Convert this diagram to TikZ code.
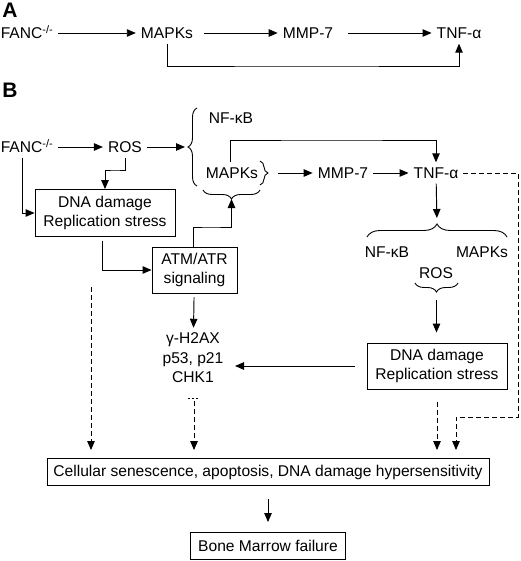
\documentclass[tikz,border=0pt]{standalone}
\usepackage{fontspec}
\setmainfont{Liberation Sans}
\usetikzlibrary{calc,positioning,arrows.meta,decorations.pathreplacing}

\tikzset{
	lbl/.style={inner sep=5pt, text height=11pt, text depth=0pt},
	box/.style={draw, line width=0.9pt, align=center, inner sep=0pt},
	arr/.style={line width=0.95pt, -{Triangle[length=9pt,width=7.5pt]}},
	dasharr/.style={arr, dash pattern=on 5pt off 3pt},
	brc/.style={line width=0.9pt, decorate, decoration={brace, amplitude=#1}},
	brc/.default=9pt,
	tag/.style={font=\fontsize{21}{21}\selectfont\bfseries},
}

\begin{document}
\begin{tikzpicture}[x=1pt, y=-1pt, font=\fontsize{15.6}{19.5}\selectfont]
			\useasboundingbox (0,0) rectangle (520,561);

			% A
			\node[tag](aTag) at(10, 10){A};
			\node[lbl](aFanc) at(27, 33){FANC\textsuperscript{-/-}};
			\node[lbl](aMapk) at(167, 33){MAPKs};
			\node[lbl](aMmp) at(308, 33){MMP-7};
			\node[lbl](aTnf) at(459, 33){TNF-α};
			\coordinate(aLow) at(300, 66);

			\draw[arr] (aFanc) to (aMapk);
			\draw[arr, shorten <=6pt] (aMapk) to (aMmp);
			\draw[arr, shorten <=10pt] (aMmp) to (aTnf);
			\draw[arr] (aMapk) |- (aLow) -| (aTnf);

			% B
			\node[tag](bTag) at(10, 90){B};
			\node[lbl](bFanc) at(27, 147){FANC\textsuperscript{-/-}};
			\node[lbl](bRos) at(125, 147){ROS};
			\node[lbl](bNfkb) at(231, 118){NF-κB};
			\node[lbl](bMapk) at(232, 173){MAPKs};
			\node[lbl](bMmp) at(343, 173){MMP-7};
			\node[lbl](bTnf) at(436, 173){TNF-α};

			\node[box, minimum width=140pt, minimum height=47pt](lDna) at(105, 213){DNA damage\\Replication stress};
			\node[box, minimum width=85pt, minimum height=46pt](atm) at(194.5, 270){ATM/ATR\\signaling};
			\node[align=center, inner sep=5pt](gList) at(193, 358){γ-H2AX\\p53, p21\\CHK1};

			\node[lbl](rNfkb) at(387, 252){NF-κB};
			\node[lbl](rMapk) at(482, 252){MAPKs};
			\node[lbl](rRos) at(436, 273){ROS};
			\node[box, minimum width=140pt, minimum height=46pt](rDna) at(437, 366){DNA damage\\Replication stress};

			\node[box, minimum width=442pt, minimum height=27pt](cell) at(268, 472){Cellular senescence, apoptosis, DNA damage hypersensitivity};
			\node[box, minimum width=155pt, minimum height=27pt](bone) at(268, 546){Bone Marrow failure};

			% braces
			\draw[brc] (197, 186) to (197, 108);
			\draw[brc=8pt] (260, 161) to (260, 185);
			\draw[brc] (260, 190) to (203, 190);
			\draw[brc=13pt] (367, 237) to (507, 237);
			\draw[brc] (458, 283) to (415, 283);

			\coordinate(lTip) at(188, 147);
			\coordinate(mTip) at(268, 173);
			\coordinate(gTip) at(231.5, 199);
			\coordinate(rTip) at(437, 224);
			\coordinate(sTip) at(436.5, 292);

			\coordinate(rosKnee) at(115, 170);
			\coordinate(atmKnee) at(210, 227);
			\coordinate(topKnee) at(330, 140);
			\coordinate(gIn) at(235, 366);
			\coordinate(gDots) at(194, 398);
			\coordinate(lDash) at(91, 287);
			\coordinate(tnfEdge) at(518, 173);
			\coordinate(tnfDrop) at(456, 417);

			\draw[arr] (bFanc) to (bRos);
			\draw[arr, shorten >=3pt] (bRos) to (lTip);
			\draw[arr] ([xshift=-5pt]bFanc.south) |- (lDna);
			\draw[arr] (bRos.south) |- (rosKnee) -| (lDna.north);
			\draw[arr, shorten <=4pt] ([xshift=-3pt]lDna.south) |- (atm);
			\draw[arr] ([xshift=-1.5pt]atm.north) |- (atmKnee) -| (gTip);
			\draw[arr] ([xshift=-2pt]bMapk.north) |- (topKnee) -| (bTnf.north);
			\draw[arr, shorten <=10pt] (mTip) to (bMmp);
			\draw[arr] (bMmp) to (bTnf);
			\draw[arr, shorten >=6pt] (bTnf) to (rTip);
			\draw[arr, shorten <=8pt, shorten >=10pt] (sTip) to (sTip |- rDna.north);
			\draw[arr, shorten <=12pt] (rDna.west) to (gIn);
			\draw[arr, shorten <=4pt] (atm) to (gList);

			\draw[line width=1pt, dash pattern=on 1.5pt off 2.5pt] ([xshift=-6pt]gDots) to ([xshift=6pt]gDots);
			\draw[dasharr, shorten <=3pt, shorten >=8pt] (gDots) to (gDots |- cell.north);
			\draw[dasharr, shorten >=8pt] (lDash) to (lDash |- cell.north);
			\draw[dasharr, shorten <=13pt, shorten >=8pt] (rDna.south) to (rDna.south |- cell.north);
			\draw[dasharr, shorten >=8pt] (bTnf.east) -- (tnfEdge) |- (tnfDrop) -- (tnfDrop |- cell.north);

			\draw[arr, shorten <=13pt, shorten >=10pt] (cell.south) to (cell.south |- bone.north);
		\end{tikzpicture}
\end{document}
